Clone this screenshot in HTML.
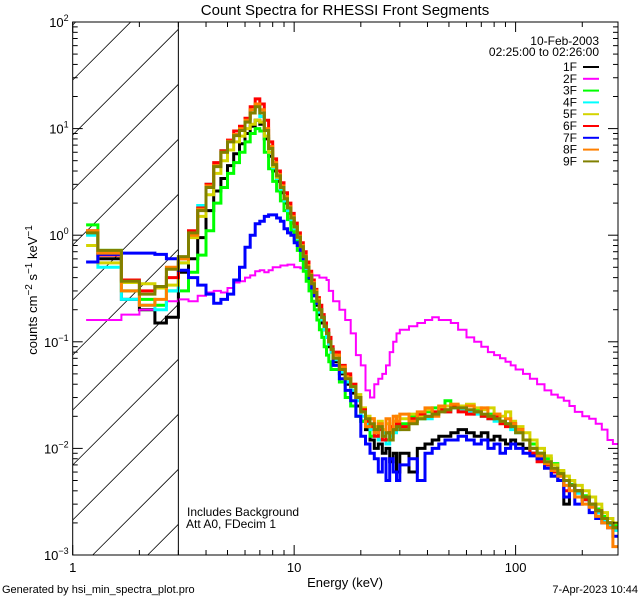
<!DOCTYPE html>
<html><head><meta charset="utf-8">
<style>
html,body{margin:0;padding:0;background:#fff;overflow:hidden;}
svg{display:block;font-family:"Liberation Sans",sans-serif;}
</style></head>
<body>
<svg id="chart" width="640" height="600" viewBox="0 0 640 600" xmlns="http://www.w3.org/2000/svg">
<rect x="0" y="0" width="640" height="600" fill="#fff"/>
<defs><clipPath id="plotclip"><rect x="72.7" y="22" width="545.3" height="533"/></clipPath></defs>
<g id="hatch"></g>
<g id="series" clip-path="url(#plotclip)"></g>
<g id="axes"></g>
<text x="345" y="15" font-size="15" text-anchor="middle">Count Spectra for RHESSI Front Segments</text>
<text x="345" y="587" font-size="13" text-anchor="middle">Energy (keV)</text>
<text transform="translate(37,290) rotate(-90)" font-size="13" text-anchor="middle">counts cm<tspan dy="-5" font-size="10">−2</tspan><tspan dy="5"> s</tspan><tspan dy="-5" font-size="10">−1</tspan><tspan dy="5"> keV</tspan><tspan dy="-5" font-size="10">−1</tspan></text>
<text x="2" y="593" font-size="11">Generated by hsi_min_spectra_plot.pro</text>
<text x="638" y="593" font-size="11" text-anchor="end">7-Apr-2023 10:44</text>
<text x="187" y="516" font-size="12">Includes Background</text>
<text x="186" y="528" font-size="12">Att A0, FDecim 1</text>
<text x="599" y="45" font-size="12" text-anchor="end">10-Feb-2003</text>
<text x="599" y="56" font-size="12" text-anchor="end">02:25:00 to 02:26:00</text>
<g id="legend"></g>
</svg>
<script>
const edges = [1.15,1.3,1.66,2.0,2.35,2.65,3.0,
 3.333,3.667,4,4.333,4.667,5,5.333,5.667,6,6.333,6.667,7,7.333,7.667,8,8.333,8.667,9,9.333,9.667,10,10.333,10.667,11,11.333,11.667,12,12.333,12.667,13,13.333,13.667,14,14.333,14.667,15,
 16,17,18,19,20,21,22,23,24,25,26,27,28,29,30,
 33,36,39,42,45,48,51,55,60,65,70,75,80,85,90,95,100,
 108,116,125,135,145,155,165,175,185,200,215,230,245,260,275,290];
const seriesNames = ["1F","2F","3F","4F","5F","6F","7F","8F","9F"];
const seriesColors = ["#000000","#ff00ff","#00ff00","#00ffff","#d4d400","#ff0000","#0000ff","#ff8000","#808000"];
const s1F = [1.05,0.6,0.25,0.2,0.15,0.17,
 0.45,0.6,0.95,1.7,2.6,3.4,4.5,5.8,7.2,9,10.5,12,11,8,5.5,4,3.2,2.5,2.0,1.6,1.3,1.1,0.88,0.72,0.58,0.47,0.39,0.32,0.27,0.22,0.18,0.15,0.13,0.11,0.09,0.08,
 0.065,0.05,0.04,0.033,0.025,0.018,0.015,0.012,0.01,0.011,0.009,0.01,0.0075,0.009,0.006,
 0.009,0.006,0.01,0.011,0.012,0.013,0.013,0.014,0.015,0.014,0.013,0.014,0.012,0.013,0.012,0.011,0.012,
 0.011,0.01,0.009,0.008,0.007,0.0055,0.005,0.003,0.0045,0.004,0.0035,0.003,0.0025,0.0022,0.002,0.0018];
const s2F = [0.16,0.16,0.18,0.2,0.22,0.24,
 0.25,0.24,0.27,0.29,0.3,0.29,0.32,0.36,0.37,0.4,0.42,0.46,0.47,0.45,0.47,0.5,0.5,0.52,0.52,0.53,0.53,0.5,0.5,0.49,0.47,0.47,0.46,0.42,0.42,0.42,0.4,0.4,0.4,0.38,0.3,0.3,
 0.24,0.2,0.16,0.12,0.075,0.06,0.035,0.03,0.04,0.045,0.05,0.06,0.08,0.1,0.12,
 0.13,0.14,0.15,0.16,0.17,0.16,0.16,0.15,0.13,0.11,0.1,0.09,0.08,0.075,0.07,0.065,0.06,
 0.055,0.05,0.045,0.04,0.035,0.032,0.03,0.028,0.025,0.022,0.02,0.019,0.017,0.015,0.012,0.011];
const s3F = [1.25,0.72,0.3,0.25,0.22,0.3,
 0.3,0.45,0.65,1.1,2.0,2.8,3.8,4.8,6.0,7.5,9,10,9.5,6,4.2,3.2,2.6,2.1,1.7,1.4,1.1,0.9,0.72,0.58,0.46,0.37,0.3,0.24,0.2,0.16,0.13,0.11,0.09,0.075,0.065,0.055,
 0.055,0.042,0.03,0.025,0.02,0.018,0.016,0.013,0.015,0.012,0.013,0.012,0.014,0.015,0.016,
 0.017,0.02,0.019,0.022,0.024,0.025,0.028,0.025,0.024,0.022,0.023,0.02,0.021,0.019,0.018,0.017,0.016,
 0.015,0.012,0.011,0.009,0.008,0.0072,0.006,0.005,0.0046,0.004,0.0036,0.003,0.0027,0.0023,0.002,0.0019];
const s4F = [1.0,0.5,0.25,0.22,0.2,0.3,
 0.55,1.0,1.9,3.0,4.5,6.2,7.6,8.8,9.8,12,15,17,13,8.5,6,4.3,3.4,2.7,2.1,1.7,1.4,1.15,0.93,0.75,0.6,0.49,0.4,0.33,0.27,0.23,0.19,0.16,0.13,0.11,0.095,0.08,
 0.068,0.052,0.042,0.035,0.028,0.02,0.017,0.015,0.013,0.012,0.014,0.011,0.013,0.014,0.015,
 0.016,0.018,0.02,0.019,0.021,0.023,0.022,0.024,0.023,0.022,0.021,0.02,0.019,0.018,0.018,0.017,0.015,
 0.014,0.012,0.01,0.0085,0.007,0.006,0.0055,0.005,0.0045,0.0038,0.0033,0.0029,0.0025,0.0021,0.0019,0.0017];
const s5F = [0.8,0.55,0.36,0.35,0.32,0.34,
 0.55,0.95,1.5,2.4,3.8,5.0,6.3,7.5,8.5,10,11,12,11.5,8.5,6,4.4,3.5,2.8,2.2,1.8,1.45,1.2,0.95,0.78,0.62,0.5,0.42,0.35,0.29,0.24,0.2,0.17,0.14,0.12,0.1,0.085,
 0.075,0.058,0.048,0.04,0.032,0.024,0.02,0.019,0.016,0.018,0.015,0.017,0.014,0.018,0.02,
 0.019,0.021,0.02,0.023,0.022,0.024,0.025,0.026,0.025,0.026,0.024,0.023,0.024,0.021,0.02,0.022,0.018,
 0.016,0.014,0.012,0.01,0.0085,0.007,0.0062,0.0055,0.005,0.0045,0.004,0.0035,0.003,0.0025,0.0022,0.002];
const s6F = [1.1,0.65,0.38,0.3,0.33,0.4,
 0.6,1.1,1.8,3.0,4.8,6.2,7.8,9.5,10.5,12.5,16,19,17,12,7.5,5.2,4.0,3.1,2.5,2.0,1.6,1.3,1.05,0.85,0.7,0.56,0.46,0.38,0.31,0.26,0.22,0.18,0.15,0.13,0.11,0.09,
 0.08,0.06,0.05,0.04,0.03,0.023,0.018,0.016,0.013,0.015,0.012,0.014,0.016,0.015,0.017,
 0.016,0.019,0.021,0.02,0.022,0.023,0.022,0.025,0.022,0.021,0.022,0.02,0.019,0.02,0.017,0.016,0.017,
 0.015,0.012,0.009,0.0075,0.007,0.006,0.0055,0.004,0.0045,0.004,0.0033,0.003,0.0026,0.0022,0.002,0.0018];
const s7F = [0.56,0.66,0.68,0.68,0.66,0.6,
 0.47,0.4,0.34,0.28,0.23,0.25,0.28,0.38,0.5,0.77,1.0,1.28,1.35,1.5,1.55,1.55,1.45,1.35,1.15,1.05,1.0,0.85,0.8,0.72,0.6,0.5,0.4,0.32,0.27,0.23,0.2,0.17,0.14,0.12,0.1,0.085,
 0.06,0.045,0.035,0.028,0.02,0.013,0.011,0.009,0.008,0.006,0.008,0.005,0.008,0.006,0.005,
 0.007,0.008,0.005,0.009,0.01,0.011,0.012,0.012,0.013,0.012,0.011,0.012,0.01,0.011,0.009,0.01,0.011,
 0.01,0.009,0.0085,0.008,0.0065,0.0055,0.005,0.0035,0.0045,0.003,0.0035,0.0025,0.0022,0.002,0.0018,0.0015];
const s8F = [1.1,0.68,0.3,0.22,0.25,0.5,
 0.6,1.0,1.75,2.9,4.5,6.0,7.6,8.8,10,12,15,17,15,10,6.8,4.8,3.7,2.9,2.3,1.85,1.5,1.2,0.98,0.8,0.64,0.52,0.43,0.36,0.3,0.25,0.2,0.17,0.14,0.12,0.1,0.085,
 0.075,0.058,0.046,0.038,0.03,0.022,0.016,0.019,0.014,0.017,0.013,0.019,0.015,0.02,0.018,
 0.021,0.018,0.022,0.024,0.02,0.025,0.023,0.026,0.024,0.025,0.022,0.024,0.02,0.021,0.018,0.019,0.017,
 0.015,0.012,0.01,0.0085,0.0072,0.0062,0.0055,0.0045,0.004,0.0035,0.003,0.0028,0.0023,0.002,0.0018,0.0012];
const s9F = [1.05,0.72,0.37,0.28,0.33,0.48,
 0.63,1.05,1.7,2.8,4.4,6.0,7.5,8.6,9.6,11.5,14,16,14,9.6,6.5,4.6,3.6,2.8,2.2,1.8,1.45,1.2,0.96,0.78,0.63,0.5,0.42,0.35,0.29,0.24,0.2,0.17,0.14,0.12,0.1,0.085,
 0.07,0.055,0.045,0.038,0.03,0.022,0.019,0.017,0.015,0.016,0.013,0.014,0.012,0.015,0.016,
 0.015,0.017,0.019,0.02,0.021,0.022,0.023,0.024,0.024,0.023,0.022,0.021,0.02,0.019,0.018,0.017,0.016,
 0.014,0.012,0.01,0.009,0.0075,0.0065,0.0058,0.005,0.0045,0.004,0.0035,0.003,0.0026,0.0022,0.002,0.0018];
const seriesValues = [s1F,s2F,s3F,s4F,s5F,s6F,s7F,s8F,s9F];
const xTickValues = [1,10,100];
const xTickLabels = ["1","10","100"];
const yTickExps = [2,1,0,-1,-2,-3];

const X0=72.7, X1=618, Y0=22, Y1=555;
const XMIN=1, XMAX=290, YMIN=1e-3, YMAX=100;
const lxr = Math.log10(XMAX)-Math.log10(XMIN);
function xs(e){return X0+(Math.log10(e)-Math.log10(XMIN))/lxr*(X1-X0);}
function ys(v){return Y1-(Math.log10(v)-Math.log10(YMIN))/(Math.log10(YMAX)-Math.log10(YMIN))*(Y1-Y0);}
const NS="http://www.w3.org/2000/svg";
function mk(tag,attrs,parent){const el=document.createElementNS(NS,tag);for(const k in attrs)el.setAttribute(k,attrs[k]);if(parent)parent.appendChild(el);return el;}

// hatch lines clipped analytically to the 1-3 keV region (45-degree lines y = b - (x - X0))
const hatch=document.getElementById('hatch');
const XC=xs(3);
for(let k=-1;k<12;k++){
  const b=Y1 - k*55 + 20;
  let xa=X0, xb=XC;
  xa=Math.max(xa, X0 + (b - Y1));
  xb=Math.min(xb, X0 + (b - Y0));
  if(xb<=xa) continue;
  const ln=mk('line',{x1:xa,y1:b-(xa-X0),x2:xb,y2:b-(xb-X0),stroke:'#000','stroke-width':0.8},hatch);
  
  
}
const bl=mk('line',{x1:XC,y1:Y0,x2:XC,y2:Y1,stroke:'#000','stroke-width':1},document.getElementById('axes'));



const sg=document.getElementById('series');
seriesValues.forEach((vals,si)=>{
  let d='';
  for(let i=0;i<vals.length;i++){
    const y=ys(vals[i]).toFixed(1), xa=xs(edges[i]).toFixed(1), xb=xs(edges[i+1]).toFixed(1);
    d+=(i===0?'M':'L')+xa+','+y+'L'+xb+','+y;
  }
  const p=mk('path',{d:d,fill:'none',stroke:seriesColors[si],'stroke-width':si===1?2:3,'stroke-linejoin':'miter'},sg);
  
  
});

const ax=document.getElementById('axes');
const fr=mk('rect',{x:X0,y:Y0,width:X1-X0,height:Y1-Y0,fill:'none',stroke:'#000','stroke-width':1},ax);


for(let dec=0;dec<3;dec++){
  for(let m=1;m<10;m++){
    const e=m*Math.pow(10,dec); if(e>XMAX) break;
    const x=xs(e), L=m===1?10:5;
    const t1=mk('line',{x1:x,y1:Y1,x2:x,y2:Y1-L,stroke:'#000'},ax);
    
    
    const t2=mk('line',{x1:x,y1:Y0,x2:x,y2:Y0+L,stroke:'#000'},ax);
    
    
  }
}
xTickValues.forEach((v,i)=>{
  const t=mk('text',{x:xs(v),y:Y1+17,'font-size':13,'text-anchor':'middle'},ax);
  t.textContent=xTickLabels[i];
  
  
});
for(let ex=-3;ex<2;ex++){
  for(let m=1;m<10;m++){
    const v=m*Math.pow(10,ex), y=ys(v), L=m===1?10:5;
    const a=mk('line',{x1:X0,y1:y,x2:X0+L,y2:y,stroke:'#000'},ax);
    
    
    const b=mk('line',{x1:X1,y1:y,x2:X1-L,y2:y,stroke:'#000'},ax);
    
    
  }
}
yTickExps.forEach(ex=>{
  const y=ys(Math.pow(10,ex));
  const t=mk('text',{x:X0-4,y:y+5,'font-size':13,'text-anchor':'end'},ax);
  
  
  const a=mk('tspan',{},t); a.textContent='10';
  const b=mk('tspan',{dy:-6,'font-size':9},t); b.textContent=(ex<0?'−':'')+Math.abs(ex);
});

const lg=document.getElementById('legend');
seriesNames.forEach((n,i)=>{
  const y=67+i*11.8;
  const t=mk('text',{x:577,y:y+4,'font-size':12,'text-anchor':'end'},lg);
  t.textContent=n;
  
  
  const l=mk('line',{x1:583,y1:y,x2:599,y2:y,stroke:seriesColors[i],'stroke-width':2},lg);
  
  
});
</script>
</body></html>
